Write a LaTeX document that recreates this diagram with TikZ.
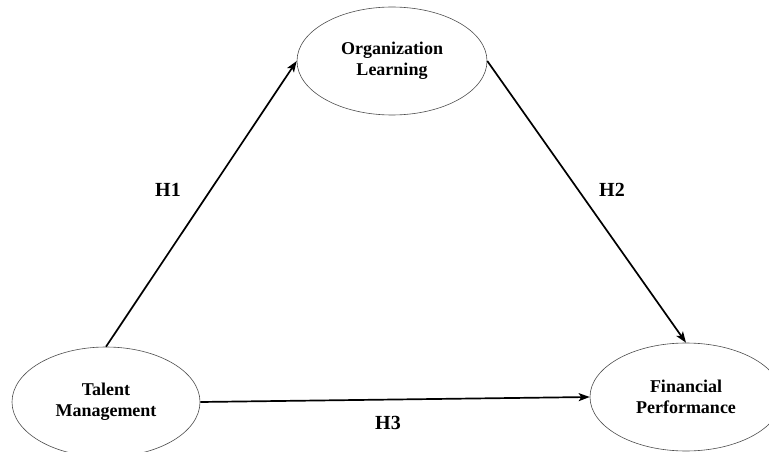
\documentclass[tikz,border=0pt]{standalone}
\usepackage{fontspec}
\setmainfont{Liberation Serif}
\usetikzlibrary{arrows.meta, positioning, shapes.geometric}

\begin{document}
\begin{tikzpicture}[
    x=1pt, y=-1pt,
    construct/.style={ellipse, draw=black!70, line width=0.6pt, minimum width=190pt, minimum height=108pt, inner sep=0pt, align=center, font=\bfseries\fontsize{18}{21}\selectfont},
    hyparrow/.style={-{Stealth[length=11pt, width=8pt, inset=2.5pt]}, line width=1.7pt},
    hyplabel/.style={font=\bfseries\fontsize{20}{22}\selectfont},
    ]
    \useasboundingbox (0,0) rectangle (769,452);

    % Constructs
    \node[construct] (orglearn) at (392,61) {Organization\\Learning};
    \node[construct, minimum width=188pt, minimum height=110pt] (talent) at (106,402) {Talent\\Management};
    \node[construct, minimum width=192pt] (finperf) at (686,397) {Financial\\Performance};

    % Hypothesised paths
    \draw[hyparrow] (talent.north) -- (orglearn.west);
    \draw[hyparrow] (orglearn.east) -- (finperf.north);
    \draw[hyparrow] (talent.east) -- (finperf.west);

    % Path labels
    \node[hyplabel] (h1) at (168,190) {H1};
    \node[hyplabel] (h2) at (612,190) {H2};
    \node[hyplabel] (h3) at (388,423) {H3};
\end{tikzpicture}
\end{document}
